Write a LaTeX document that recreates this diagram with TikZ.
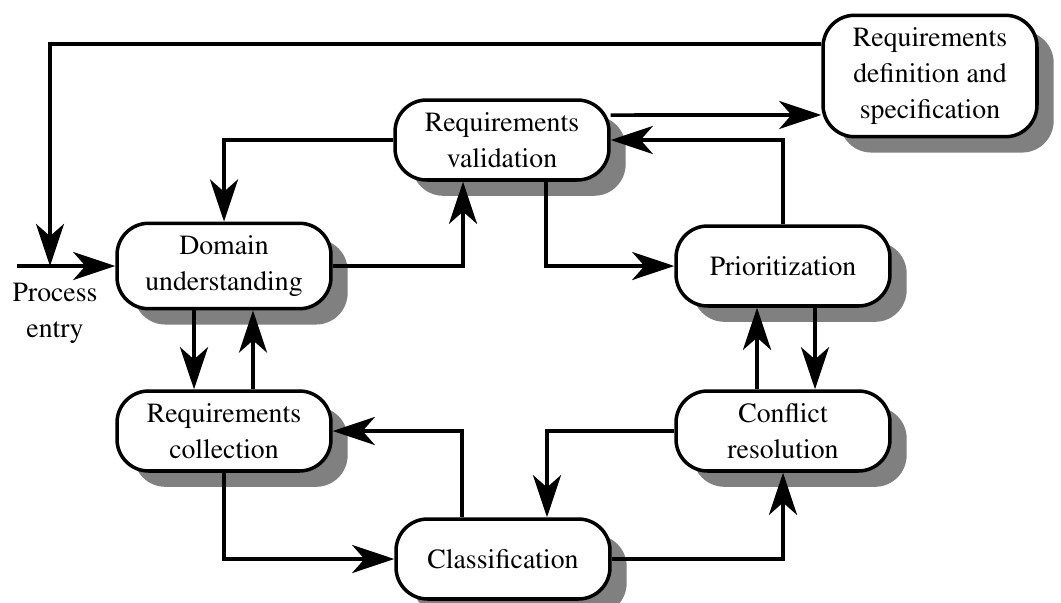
\documentclass[tikz,border=0pt]{standalone}
\usepackage[T1]{fontenc}
\usepackage{times}
\usetikzlibrary{arrows.meta}
\usetikzlibrary{shadows}

\begin{document}
\begin{tikzpicture}
[x=0.02cm, y=-0.02cm,
  lineDecorate/.style={-{Stealth[length=24pt,width=16pt,inset=7pt]},line width=2pt},%
  textDecorate/.style={font=\fontsize{15.8}{20.5}\selectfont,align=center},%
  nodeDecorate/.style={shape=rectangle,rounded corners=18pt,draw,line width=2pt,
    fill=white,textDecorate,minimum width=4.28cm,minimum height=1.6cm,inner ysep=7pt,
    drop shadow={shadow xshift=9.5pt,shadow yshift=-9pt,fill=black!50,opacity=1}}]
\useasboundingbox (0,0) rectangle (1061,602);
%% nodes or vertices
\foreach \nodename/\x/\y/\nodetext in {
  DU/224/266/{Domain\\understanding}, RV/502/140/{Requirements\\validation},
  RDS/930/76/{Requirements\\definition and\\specification}, P/783/266/{Prioritization},
  RC/224/431/{Requirements\\collection}, CR/783/431/{Conflict\\resolution},
  C/503/559/{Classification}}
{
  \node (\nodename) at (\x,\y) [nodeDecorate] {\nodetext};
}
\coordinate (entry) at (17,266);
\coordinate (join) at (50,266);
\node (entrytext) at (55,313) [textDecorate] {Process\\entry};
%% edges or lines
\draw[line width=2pt] (entry) -- (join);
\draw[lineDecorate] (join) -- (DU.west);
\draw[lineDecorate] ([yshift=0.64cm]RDS.west) -| (join);
\draw[lineDecorate] (RV.west) -| (DU.north);
\draw[lineDecorate] (DU.east) -| ([xshift=-0.78cm]RV.south);
\draw[lineDecorate] ([yshift=0.5cm]RV.east) -- ([yshift=-0.78cm]RDS.west);
\draw[lineDecorate] (P.north) |- (RV.east);
\draw[lineDecorate] ([xshift=0.88cm]RV.south) |- (P.west);
\draw[lineDecorate] ([xshift=0.64cm]P.south) -- ([xshift=0.64cm]CR.north);
\draw[lineDecorate] ([xshift=-0.52cm]CR.north) -- ([xshift=-0.52cm]P.south);
\draw[lineDecorate] (CR.west) -| ([xshift=0.88cm]C.north);
\draw[lineDecorate] (C.east) -| (CR.south);
\draw[lineDecorate] ([xshift=-0.82cm]C.north) |- (RC.east);
\draw[lineDecorate] (RC.south) |- (C.west);
\draw[lineDecorate] ([xshift=-0.6cm]DU.south) -- ([xshift=-0.6cm]RC.north);
\draw[lineDecorate] ([xshift=0.58cm]RC.north) -- ([xshift=0.58cm]DU.south);
\end{tikzpicture}
\end{document}
